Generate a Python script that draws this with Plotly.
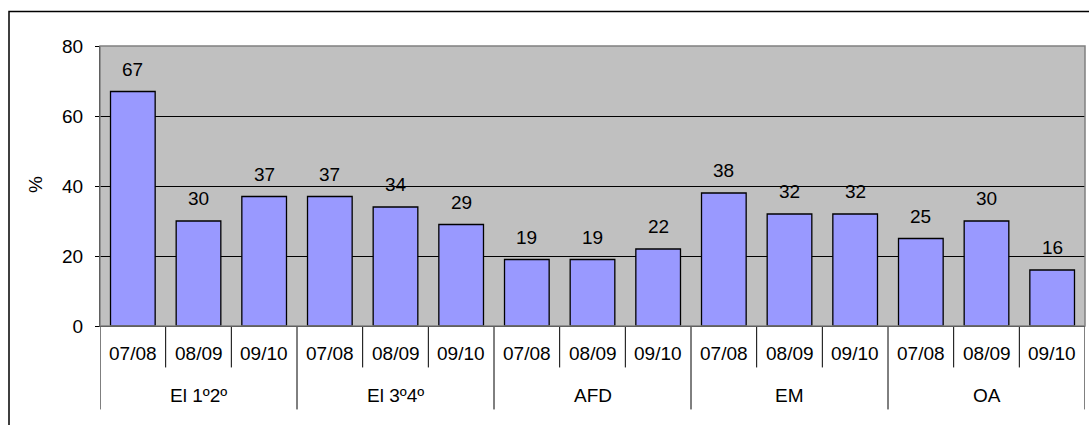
import plotly.graph_objects as go

# Percentages per group and school year
groups = ["El 1º2º", "El 3º4º", "AFD", "EM", "OA"]
years = ["07/08", "08/09", "09/10"]
values = [67, 30, 37, 37, 34, 29, 19, 19, 22, 38, 32, 32, 25, 30, 16]
y_ticks = [0, 20, 40, 60, 80]
y_title = "%"

FONT = "Liberation Sans, Arial, sans-serif"
FS = 19
n = len(values)
xs = list(range(n))

fig = go.Figure()
fig.add_trace(go.Bar(
    x=xs, y=values, width=0.68,
    marker=dict(color="#9999FF", line=dict(color="#000000", width=1.3)),
    hoverinfo="skip", showlegend=False,
))

annotations = []
# value labels above each bar
for i, v in enumerate(values):
    annotations.append(dict(x=i, y=v, xref="x", yref="y", text=str(v),
                            showarrow=False, yanchor="bottom", yshift=10,
                            font=dict(family=FONT, size=FS, color="#000")))
# year labels (inner level)
for i in range(n):
    annotations.append(dict(x=i, y=-0.098, xref="x", yref="paper",
                            text=years[i % len(years)], showarrow=False,
                            yanchor="middle",
                            font=dict(family=FONT, size=FS, color="#000")))
# group labels (outer level)
for g, name in enumerate(groups):
    annotations.append(dict(x=g * len(years) + 1, y=-0.248, xref="x", yref="paper",
                            text=name, showarrow=False, yanchor="middle",
                            font=dict(family=FONT, size=FS, color="#000")))
# y axis title
annotations.append(dict(x=(35 - 100) / 985, y=(326 - 185) / 280,
                        xref="paper", yref="paper", text=y_title,
                        showarrow=False, textangle=-90,
                        xanchor="center", yanchor="middle",
                        font=dict(family=FONT, size=FS, color="#000")))

shapes = []
# separators between categories (short) and between groups (long)
for b in range(n + 1):
    is_group = b % len(years) == 0
    shapes.append(dict(type="line", xref="x", yref="paper",
                       x0=b - 0.5, x1=b - 0.5, y0=0,
                       y1=-0.298 if is_group else -0.148,
                       line=dict(color="#000000", width=1)))
# plot area border (top/right)
shapes.append(dict(type="rect", xref="paper", yref="paper", x0=0, x1=1, y0=0, y1=1,
                   line=dict(color="#808080", width=1.5), layer="above"))
# outer chart frame
shapes.append(dict(type="rect", xref="paper", yref="paper",
                   x0=(9 - 100) / 985, x1=(1100 - 100) / 985,
                   y0=(326 - 440) / 280, y1=(326 - 11.5) / 280,
                   line=dict(color="#000000", width=1.5)))

fig.update_layout(
    width=1089, height=425,
    margin=dict(l=100, r=4, t=46, b=99),
    paper_bgcolor="#FFFFFF", plot_bgcolor="#C0C0C0",
    bargap=0.32,
    xaxis=dict(range=[-0.5, n - 0.5], showticklabels=False, ticks="",
               showgrid=False, zeroline=False, showline=True,
               linecolor="#000000", linewidth=1, fixedrange=True),
    yaxis=dict(range=[0, 80], tickvals=y_ticks, ticks="outside", ticklen=4,
               tickcolor="#000000", showline=True, linecolor="#000000",
               linewidth=1, showgrid=True, gridcolor="#000000", gridwidth=1,
               zeroline=False, ticklabelstandoff=8,
               tickfont=dict(family=FONT, size=FS, color="#000")),
    annotations=annotations,
    shapes=shapes,
)

fig.write_html("out.html")
